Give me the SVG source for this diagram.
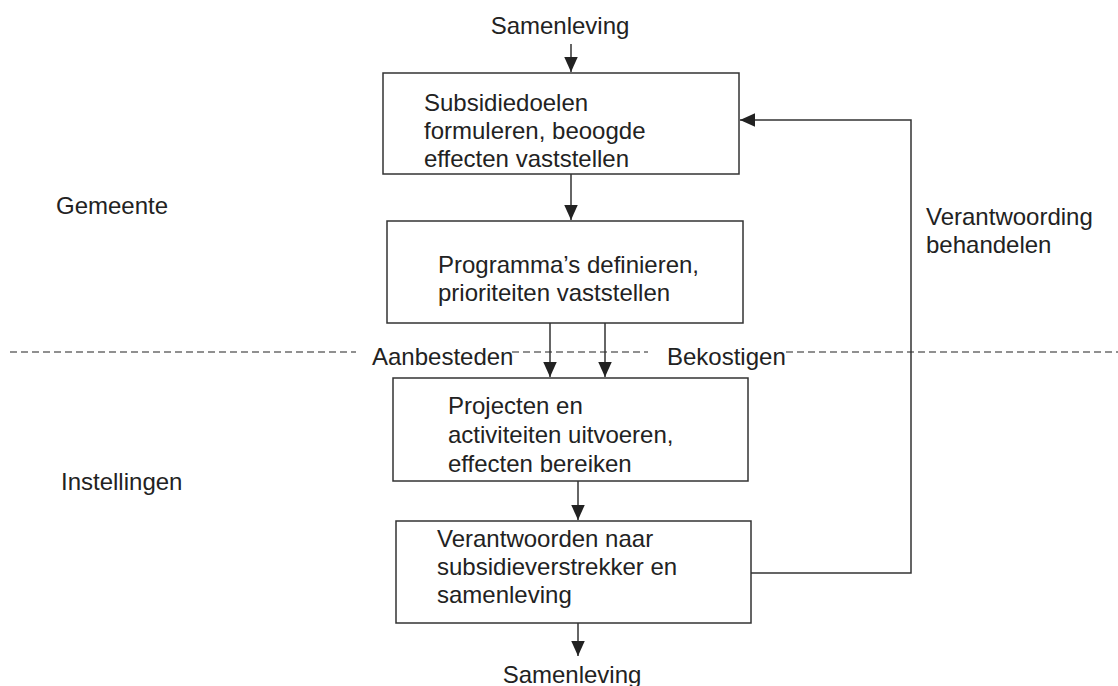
<svg xmlns="http://www.w3.org/2000/svg" width="1118" height="686" viewBox="0 0 1118 686">
<style>
text{font-family:"Liberation Sans",Arial,sans-serif;font-size:24px;fill:#222}
.box{fill:#fff;stroke:#333;stroke-width:1.5}
.ln{fill:none;stroke:#333;stroke-width:1.5}
.dash{fill:none;stroke:#222;stroke-width:1.2;stroke-dasharray:7 4}
</style>
<defs>
<marker id="ah" viewBox="0 0 10 10" refX="10" refY="5" markerWidth="15" markerHeight="15" markerUnits="userSpaceOnUse" orient="auto">
<path d="M0,0.5 L10,5 L0,9.5 Z" fill="#222"/>
</marker>
</defs>
<rect width="1118" height="686" fill="#fff"/>
<g id="separator">
<line class="dash" x1="10" y1="352" x2="356" y2="352"/>
<line class="dash" x1="512" y1="352" x2="648" y2="352"/>
<line class="dash" x1="786" y1="352" x2="1118" y2="352"/>
</g>
<g id="connectors">
<line class="ln" x1="571" y1="44" x2="571" y2="72" marker-end="url(#ah)"/>
<line class="ln" x1="571" y1="174" x2="571" y2="220" marker-end="url(#ah)"/>
<line class="ln" x1="550" y1="323" x2="550" y2="377" marker-end="url(#ah)"/>
<line class="ln" x1="605" y1="323" x2="605" y2="377" marker-end="url(#ah)"/>
<line class="ln" x1="578" y1="481" x2="578" y2="520" marker-end="url(#ah)"/>
<line class="ln" x1="578" y1="623" x2="578" y2="656" marker-end="url(#ah)"/>
<polyline class="ln" points="751,573 911,573 911,120 740,120" marker-end="url(#ah)"/>
</g>
<g id="label-samenleving-top"><text x="560" y="34" text-anchor="middle">Samenleving</text></g>
<g id="node-doelen">
<rect class="box" x="383" y="73" width="356" height="101"/>
<text x="424" y="111">Subsidiedoelen</text>
<text x="424" y="139">formuleren, beoogde</text>
<text x="424" y="167">effecten vaststellen</text>
</g>
<g id="node-programma">
<rect class="box" x="387" y="221" width="356" height="102"/>
<text x="438" y="273">Programma’s definieren,</text>
<text x="438" y="301">prioriteiten vaststellen</text>
</g>
<g id="node-projecten">
<rect class="box" x="393" y="378" width="355" height="103"/>
<text x="448" y="414">Projecten en</text>
<text x="448" y="443">activiteiten uitvoeren,</text>
<text x="448" y="472">effecten bereiken</text>
</g>
<g id="node-verantwoorden">
<rect class="box" x="396" y="521" width="355" height="102"/>
<text x="437" y="547">Verantwoorden naar</text>
<text x="437" y="575">subsidieverstrekker en</text>
<text x="437" y="603">samenleving</text>
</g>
<g id="label-samenleving-bottom"><text x="572" y="683" text-anchor="middle">Samenleving</text></g>
<g id="label-aanbesteden"><text x="372" y="365">Aanbesteden</text></g>
<g id="label-bekostigen"><text x="667" y="365">Bekostigen</text></g>
<g id="label-verantwoording">
<text x="926" y="225">Verantwoording</text>
<text x="926" y="253">behandelen</text>
</g>
<g id="label-gemeente"><text x="56" y="214">Gemeente</text></g>
<g id="label-instellingen"><text x="61" y="490">Instellingen</text></g>
</svg>
